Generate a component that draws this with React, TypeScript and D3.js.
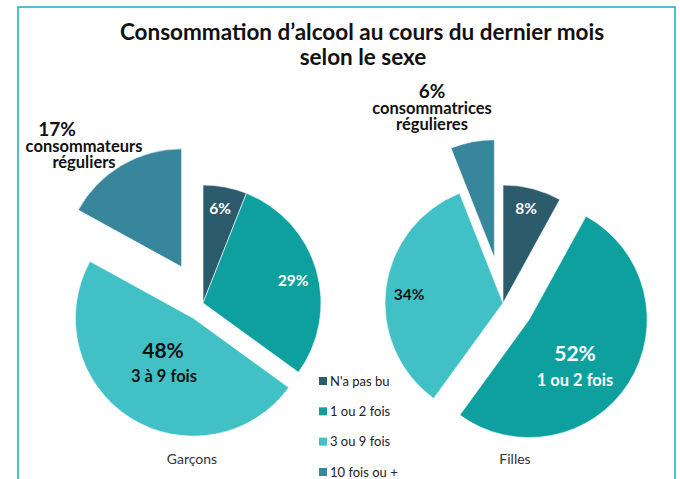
import React from "react";
import * as d3 from "d3";

// categories and shares (%)
const categories = ["N'a pas bu", "1 ou 2 fois", "3 ou 9 fois", "10 fois ou +"];
const garcons = [6, 29, 48, 17];
const filles = [8, 52, 34, 6];
const colors = ["#2c5b6b", "#0ea09f", "#41c1c5", "#37869c"];

const W = 680;
const H = 479;
const R = 118;
const FONT = "Lato, 'Open Sans', sans-serif";

type PieProps = {
  values: number[];
  cx: number;
  cy: number;
  offsets: number[];
};

const Pie = ({ values, cx, cy, offsets }: PieProps) => {
  const pie = d3.pie<number>().sort(null).value((d) => d);
  const arc = d3.arc<d3.PieArcDatum<number>>().innerRadius(0).outerRadius(R);
  const arcs = pie(values);
  return (
    <g transform={`translate(${cx},${cy})`}>
      {arcs.map((a, i) => {
        // exploded slices are pushed out along their mid angle
        const mid = (a.startAngle + a.endAngle) / 2;
        const dx = Math.sin(mid) * offsets[i];
        const dy = -Math.cos(mid) * offsets[i];
        return (
          <path
            key={i}
            d={arc(a) || ""}
            transform={`translate(${dx},${dy})`}
            fill={colors[i]}
            stroke="#ffffff"
            strokeWidth={0.6}
          />
        );
      })}
    </g>
  );
};

export default function App() {
  const legendY = d3.scalePoint<string>().domain(categories).range([381, 472]);
  const boldText = (x: number, y: number, t: string, size: number, fill = "#111") => (
    <text x={x} y={y} textAnchor="middle" fontWeight="bold" fontSize={size} fill={fill}>
      {t}
    </text>
  );
  return (
    <div style={{ position: "absolute", left: 0, top: 0 }}>
      <svg width={W} height={H} style={{ display: "block", fontFamily: FONT }}>
        <rect width={W} height={H} fill="#ffffff" />
        <path d={`M18,${H} V7 H675 V${H}`} fill="none" stroke="#1aabc0" strokeWidth={1.5} />

        <text x={362} y={40} textAnchor="middle" fontWeight="bold" fontSize={22.5} fill="#111">
          Consommation d’alcool au cours du dernier mois
        </text>
        <text x={363} y={65} textAnchor="middle" fontWeight="bold" fontSize={22.5} fill="#111">
          selon le sexe
        </text>

        <Pie values={garcons} cx={203} cy={303} offsets={[0, 0, 18, 42]} />
        <Pie values={filles} cx={503} cy={303} offsets={[0, 31, 0, 46]} />

        {/* Garçons labels */}
        {boldText(220, 214, "6%", 15.5, "#ffffff")}
        {boldText(293, 286, "29%", 15.5, "#ffffff")}
        {boldText(163, 358, "48%", 21)}
        {boldText(164, 382, "3 à 9 fois", 16.5)}
        {boldText(57, 136, "17%", 19)}
        {boldText(84, 152, "consommateurs", 16.5)}
        {boldText(84, 168, "réguliers", 16.5)}
        <text x={192} y={464} textAnchor="middle" fontSize={14} fill="#333">Garçons</text>

        {/* Filles labels */}
        {boldText(526, 214, "8%", 15.5, "#ffffff")}
        {boldText(409, 300, "34%", 15.5)}
        {boldText(575, 361, "52%", 21, "#ffffff")}
        {boldText(575, 386, "1 ou 2 fois", 16.5, "#ffffff")}
        {boldText(432, 98, "6%", 19)}
        {boldText(432, 114, "consommatrices", 16.5)}
        {boldText(432, 130, "régulieres", 16.5)}
        <text x={515} y={464} textAnchor="middle" fontSize={14} fill="#333">Filles</text>

        {/* legend */}
        {categories.map((c, i) => (
          <g key={c} transform={`translate(319,${legendY(c)})`}>
            <rect x={0} y={-4} width={8} height={8} fill={colors[i]} />
            <text x={11} y={4.5} fontSize={13} fill="#222">{c}</text>
          </g>
        ))}
      </svg>
    </div>
  );
}
